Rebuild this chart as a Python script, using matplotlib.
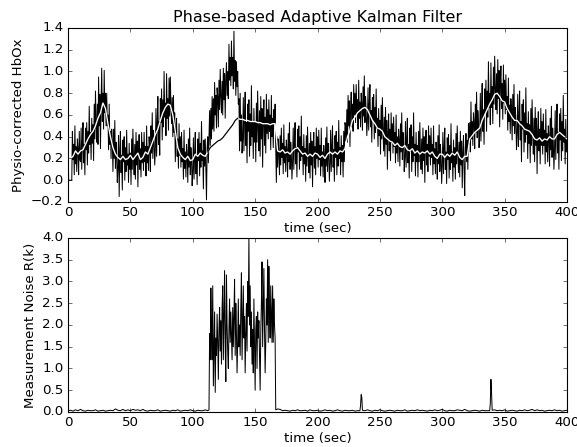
import numpy as np
import matplotlib
matplotlib.use('Agg')
import matplotlib.pyplot as plt

plt.style.use('classic')
plt.rcParams['figure.facecolor'] = 'white'
plt.rcParams['savefig.facecolor'] = 'white'

# raw HbOx signal, one row per 10 s, samples every 0.5 s
raw_rows = [
    [0.35, 0, 0, 0, 0, 0, 0, .45, .19, .33, .05, .50, .15, .31, .08, .38, .29, .05, .45, .19],
    [.17, .48, .10, .35, .53, .16, .33, .05, .48, .28, .53, .14, .45, .25, .68, .33, .44, .19, .57, .34],
    [.51, .18, .70, .38, .82, .53, .35, .70, .33, .95, .50, .79, .29, .72, 1.03, .54, .80, .47, 1.01, .62],
    [.80, .50, .80, .50, .60, .28, .70, .33, .45, .20, .47, .35, .08, .47, .20, .55, .11, .35, .22, -.02],
    [.11, .41, -.15, .27, .45, .07, .23, -.09, .37, .17, .40, .00, .30, .08, .46, .14, .24, -.02, .34, .10],
    [.25, -.04, .38, .10, .47, .21, .05, .33, .01, .44, .14, .36, -.06, .28, .42, .10, .29, .03, .44, .16],
    [.35, .09, .44, .17, .31, .04, .50, .16, .31, .09, .40, .31, .08, .50, .25, .62, .20, .46, .36, .14],
    [.28, .66, .22, .53, .77, .33, .54, .23, .75, .53, .84, .37, .74, .49, 1.00, .58, .71, .41, .98, .57],
    [.75, .46, .94, .59, .95, .68, .52, .76, .40, .78, .44, .62, .17, .47, .57, .22, .38, .11, .52, .23],
    [.40, .12, .44, .17, .29, .01, .46, .11, .26, .03, .33, .23, -.02, .38, .12, .48, .05, .30, .18, -.05],
    [.08, .39, .01, .25, .44, .06, .23, -.04, .38, .18, .44, .04, .34, .12, .54, .18, .27, -.08, .37, .13],
    [.38, .11, -.18, .29, .40, .16, .40, .64, .32, .66, .38, .77, .47, .75, .45, .90, .60, .78, .48, .85],
    [.77, .49, .92, .65, 1.02, .77, .62, .91, .60, 1.03, .74, .98, .57, .93, 1.08, .78, 1.00, .75, 1.25, .92],
    [1.13, .87, 1.28, .96, 1.13, .84, 1.37, .91, 1.10, .78, 1.09, .86, 1.00, .70, .75, .27, .80, .36, .60, .25],
    [.37, .76, .27, .58, .81, .32, .53, .16, .70, .45, .74, .22, .61, .32, .87, .40, .53, .20, .66, .35],
    [.54, .17, .71, .35, .82, .48, .27, .64, .22, .77, .38, .66, .12, .56, .74, .32, .58, .25, .79, .43],
    [.65, .38, .74, .45, .60, .28, .78, .40, .57, .30, .65, .52, .70, .30, -.02, .40, .12, .38, .24, .05],
    [.41, .14, .48, .21, .34, .06, .51, .16, .31, .08, .37, .27, .03, .43, .17, .53, .10, .35, .24, .01],
    [.17, .48, .10, .34, .53, .15, .30, .03, .47, .26, .50, .10, .40, .18, .59, .22, .31, .05, .42, .15],
    [.29, -.01, .41, .13, .49, .23, .07, .34, .02, .44, .14, .36, -.06, .28, .44, .11, .31, .05, .48, .20],
    [.40, .12, .46, .19, .32, .04, .48, .13, .26, .03, .32, .22, -.02, .39, .13, .49, .08, .34, .23, -.01],
    [.16, .46, .08, .32, .50, .12, .28, -.01, .41, .21, .45, .05, .35, .13, .55, .20, .30, .05, .41, .17],
    [.32, .03, .45, .17, .53, .50, .36, .65, .35, .78, .50, .73, .31, .66, .81, .49, .70, .45, .88, .60],
    [.80, .53, .88, .61, .74, .47, .92, .57, .72, .49, .80, .70, .46, .86, .59, .96, .53, .77, .64, .41],
    [.55, .85, .46, .70, .88, .49, .64, .35, .76, .55, .79, .38, .67, .44, .84, .48, .57, .31, .66, .41],
    [.55, .24, .69, .38, .76, .46, .27, .58, .22, .67, .33, .55, .10, .44, .61, .27, .47, .18, .62, .35],
    [.52, .25, .58, .31, .44, .16, .60, .25, .40, .17, .47, .37, .13, .52, .26, .62, .19, .44, .32, .08],
    [.21, .54, .12, .38, .57, .16, .33, .02, .48, .27, .51, .08, .40, .17, .62, .23, .33, .04, .44, .17],
    [.32, .03, .45, .17, .53, .26, .10, .38, .06, .48, .18, .40, -.02, .32, .46, .14, .33, .08, .50, .22],
    [.41, .14, .48, .21, .33, .05, .50, .15, .29, .06, .35, .25, .01, .41, .15, .51, .08, .33, .21, -.03],
    [.14, .44, .06, .30, .48, .10, .26, -.03, .39, .19, .42, .02, .32, .10, .52, .16, .26, -.01, .37, .12],
    [.30, .01, .43, .15, .50, .24, .07, .35, .03, .45, .14, .36, -.07, .27, .41, .09, -.14, .30, .43, .17],
    [.37, .10, .52, .33, .53, .26, .72, .38, .54, .32, .62, .53, .29, .70, .44, .81, .39, .64, .53, .30],
    [.43, .80, .36, .66, .89, .45, .65, .33, .84, .62, .92, .45, .82, .58, 1.09, .67, .80, .51, 1.08, .67],
    [.86, .52, 1.04, .70, 1.14, .84, .65, .98, .61, 1.11, .75, 1.01, .49, .89, 1.05, .66, .89, .56, 1.06, .71],
    [.92, .61, .97, .65, .77, .46, .94, .54, .69, .43, .75, .63, .37, .79, .50, .88, .43, .67, .55, .28],
    [.43, .79, .31, .59, .82, .37, .54, .17, .70, .47, .74, .26, .62, .35, .85, .42, .52, .20, .63, .34],
    [.51, .16, .66, .32, .74, .43, .24, .57, .17, .67, .32, .57, .06, .46, .63, .27, .47, .15, .66, .32],
    [.54, .24, .61, .32, .46, .15, .65, .26, .43, .17, .50, .39, .13, .57, .28, .68, .21, .48, .35, .10],
    [.28, .64, .19, .47, .70, .25, .44, .10, .61, .37, .66, .18, .54, .27, .78, .35, .47, .15, .56, .26],
    [.38],
]

# kalman estimate, one row per 20 s, samples every 2 s
est_rows = [
    [.18, .20, .22, .27, .24, .27, .28, .33, .38, .42],
    [.45, .50, .57, .62, .71, .66, .52, .40, .30, .24],
    [.21, .19, .22, .19, .20, .23, .19, .22, .25, .19],
    [.21, .26, .24, .30, .36, .42, .47, .55, .62, .67],
    [.70, .69, .60, .45, .30, .24, .21, .19, .22, .18],
    [.19, .24, .22, .25, .23, .22, .26, .30, .32, .34],
    [.36, .37, .39, .42, .45, .48, .51, .55, .57, .56],
    [.56, .55, .55, .54, .54, .54, .53, .53, .52, .52],
    [.52, .51, .52, .52, .27, .26, .28, .25, .26, .24],
    [.27, .29, .30, .27, .24, .25, .22, .24, .22, .25],
    [.24, .21, .23, .20, .24, .26, .24, .26, .24, .27],
    [.26, .29, .40, .46, .55, .58, .62, .64, .66, .67],
    [.65, .60, .55, .52, .48, .47, .45, .40, .38, .36],
    [.35, .32, .34, .31, .30, .32, .28, .27, .29, .25],
    [.27, .24, .26, .25, .27, .24, .26, .22, .20, .24],
    [.24, .21, .24, .22, .25, .23, .26, .21, .19, .22],
    [.22, .38, .41, .44, .46, .48, .55, .60, .65, .70],
    [.74, .79, .80, .77, .73, .72, .66, .62, .58, .55],
    [.55, .52, .50, .47, .46, .45, .42, .38, .37, .39],
    [.36, .38, .37, .40, .38, .38, .42, .44, .42, .40],
    [.38],
]

# measurement noise R(k)
rk_base1 = [.03, .04, .02, .05, .03, .06, .03, .02, .04, .03,   # t = 0, 2, ... 112
            .03, .05, .02, .03, .04, .02, .03, .04, .03, .07,
            .04, .03, .06, .03, .05, .03, .06, .04, .05, .03,
            .06, .03, .02, .04, .03, .03, .05, .02, .03, .04,
            .03, .02, .04, .03, .05, .02, .03, .04, .03, .05,
            .03, .02, .04, .03, .03, .05, .03]
rk_burst = [.05, 1.8, 1.2, 2.85, 1.9, 1.2, 2.9, .6, 1.5, 2.3, .45, 1.7, 1.3, 2.25, 1.6, .75, 1.9, 2.4, 1.4, 2.1,
            1.1, 2.4, 2.9, 1.2, 2.2, 3.25, 1.5, .7, 3.15, 2.0, 1.4, 1.0, 1.9, 2.6, 1.6, 2.3, 1.7, 1.2, 2.4, 1.5,
            2.2, 3.05, 1.3, 2.5, 1.8, .9, 1.6, 2.6, 1.5, 2.0, 1.3, 2.4, 3.2, 1.2, 2.0, 2.9, 1.7, 2.2, .9, 1.8,
            2.5, 1.4, 3.0, 2.2, 4.0, 2.0, 2.9, 1.5, 2.3, 1.1, 1.9, .9, 2.6, 1.6, .5, 1.9, 2.2, 1.0, 2.3, 1.7,
            2.1, 1.3, .5, 1.8, 2.5, 3.45, 1.5, 2.4, 3.3, 1.9, .9, 1.6, 2.6, 2.0, 3.5, 1.6, 3.35, 2.3, 1.7, 2.9,
            2.2, 1.6, 2.9, 1.6, 2.6, 2.0, 1.7, .05]   # t = 113.0, 113.5, ... 166.5
rk_base2 = [.07, .06, .03, .04, .03, .02, .04, .03, .05, .03,   # t = 168, 170, ... 400
            .03, .04, .02, .05, .03, .03, .04, .02, .03, .05,
            .03, .04, .02, .03, .05, .03, .02, .04, .03, .03,
            .04, .02, .03, .03, .04, .03, .05, .03, .02, .04,
            .03, .05, .03, .02, .03, .04, .03, .02, .04, .03,
            .03, .05, .02, .03, .04, .03, .05, .03, .04, .03,
            .02, .04, .03, .05, .03, .04, .06, .03, .02, .04,
            .03, .03, .05, .04, .03, .06, .03, .02, .03, .04,
            .03, .02, .04, .03, .03, .03, .04, .05, .03, .04,
            .03, .05, .02, .03, .04, .03, .02, .04, .03, .05,
            .03, .04, .06, .03, .05, .03, .04, .02, .03, .04,
            .03, .05, .03, .04, .02, .03, .04]
rk_spikes = [(234.5, .15), (235, .40), (235.5, .33), (338.5, .20), (339, .75), (339.5, .45)]

raw_t = np.concatenate([10 * r + 0.5 * np.arange(len(row)) for r, row in enumerate(raw_rows)])
raw_v = np.concatenate(raw_rows)
est_t = np.concatenate([20 * r + 2.0 * np.arange(len(row)) for r, row in enumerate(est_rows)])
est_v = np.concatenate(est_rows)

rk_t = np.concatenate([2.0 * np.arange(len(rk_base1)),
                       113 + 0.5 * np.arange(len(rk_burst)),
                       168 + 2.0 * np.arange(len(rk_base2)),
                       [p[0] for p in rk_spikes]])
rk_v = np.concatenate([rk_base1, rk_burst, rk_base2, [p[1] for p in rk_spikes]])
order = np.argsort(rk_t, kind='stable')
rk_t, rk_v = rk_t[order], rk_v[order]

fig = plt.figure(figsize=(577 / 80.0, 447 / 80.0), dpi=80)
ax1 = fig.add_axes([0.1179, 0.5481, 0.8648, 0.3893])
ax2 = fig.add_axes([0.1179, 0.0783, 0.8648, 0.3893])

ax1.plot(raw_t, raw_v, color='black', lw=0.9)
ax1.plot(est_t, est_v, color='white', lw=1.2)
seg = (est_t >= 112) & (est_t <= 136)
ax1.plot(est_t[seg], est_v[seg], color='black', lw=1.1)
ax1.set_xlim(0, 400)
ax1.set_ylim(-0.2, 1.4)
ax1.set_yticks(np.arange(-0.2, 1.41, 0.2))
ax1.set_xticks(np.arange(0, 401, 50))
ax1.set_title('Phase-based Adaptive Kalman Filter')
ax1.set_xlabel('time (sec)', labelpad=2)
ax1.set_ylabel('Physio-corrected HbOx')

ax2.plot(rk_t, rk_v, color='black', lw=0.9)
ax2.set_xlim(0, 400)
ax2.set_ylim(0, 4.0)
ax2.set_yticks(np.arange(0, 4.01, 0.5))
ax2.set_xticks(np.arange(0, 401, 50))
ax2.set_xlabel('time (sec)', labelpad=2)
ax2.set_ylabel('Measurement Noise R(k)')

fig.savefig('out.png', dpi=80)
